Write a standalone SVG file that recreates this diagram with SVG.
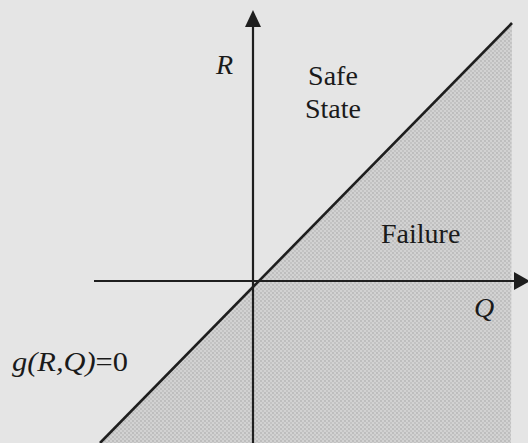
<svg xmlns="http://www.w3.org/2000/svg" width="528" height="443" viewBox="0 0 528 443">
<defs>
<pattern id="dots" width="4" height="4" patternUnits="userSpaceOnUse">
<rect width="4" height="4" fill="#d2d2d2"/>
<circle cx="1" cy="1" r="0.9" fill="#b4b4b4"/>
<circle cx="3" cy="3" r="0.9" fill="#bcbcbc"/>
</pattern>
<style>
.ax{stroke:#1e1e1e;stroke-width:2.2;fill:none}
.lbl{font-family:"Liberation Serif","Times New Roman",serif;font-size:28px;fill:#1a1a1a}
.it{font-style:italic}
</style>
</defs>
<rect width="528" height="443" fill="#e5e5e5"/>
<g id="failure-region">
<polygon points="512,23 511,443 100,443" fill="url(#dots)"/>
</g>
<g id="connectors">
<line class="ax" x1="253" y1="443" x2="253" y2="24"/>
<polygon points="253,10 245,27 261,27" fill="#1e1e1e"/>
<line class="ax" x1="94" y1="281" x2="516" y2="281"/>
<polygon points="530,281 514,272 514,290" fill="#1e1e1e"/>
<line x1="512" y1="23" x2="100" y2="443" stroke="#1e1e1e" stroke-width="2.6"/>
</g>
<g id="label-R"><text class="lbl it" x="216" y="74">R</text></g>
<g id="label-safe"><text class="lbl" x="333" y="85" text-anchor="middle">Safe</text><text class="lbl" x="333" y="118" text-anchor="middle">State</text></g>
<g id="label-failure"><text class="lbl" x="381" y="243">Failure</text></g>
<g id="label-Q"><text class="lbl it" x="474" y="317">Q</text></g>
<g id="label-g"><text class="lbl it" x="12" y="371" textLength="116" lengthAdjust="spacingAndGlyphs">g(R,Q)<tspan font-style="normal">=0</tspan></text></g>
</svg>
